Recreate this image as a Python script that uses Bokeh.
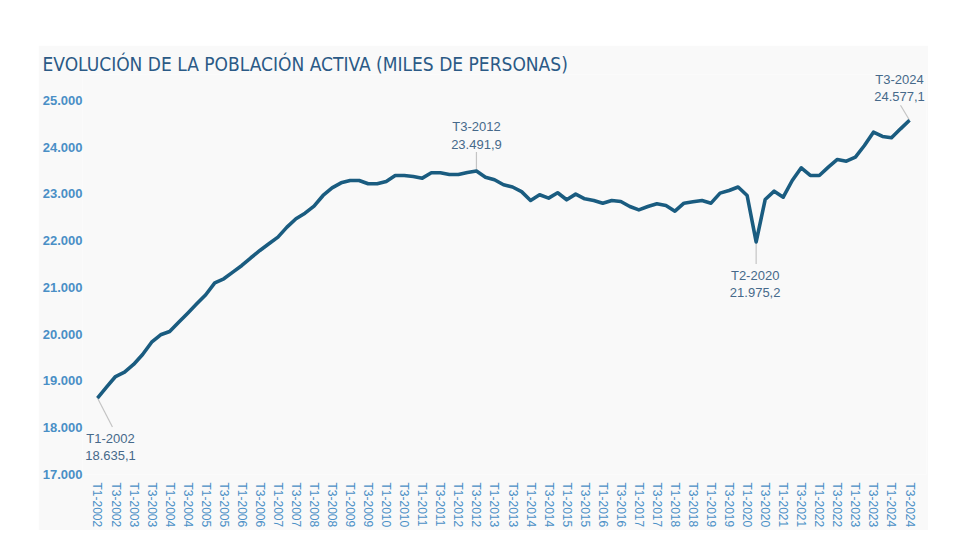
from bokeh.plotting import figure
from bokeh.models import ColumnDataSource, Range1d, FixedTicker
from bokeh.core.properties import value
from bokeh.embed import file_html
from bokeh.resources import INLINE

# ---- data ----
years = list(range(2002, 2025))
quarters = [f"T{q}-{y}" for y in years for q in (1, 2, 3, 4)][:91]  # T1-2002 .. T3-2024
activos = [
    18635.1, 18868, 19096, 19189, 19353, 19567, 19830, 19988, 20059, 20258,
    20451, 20651, 20844, 21100, 21186, 21329, 21471, 21636, 21792, 21935,
    22078, 22292, 22470, 22590, 22740, 22968, 23132, 23239, 23289, 23289,
    23218, 23218, 23267, 23396, 23396, 23374, 23339, 23453, 23453, 23417,
    23417, 23460, 23491.9, 23360, 23304, 23197, 23150, 23050, 22861, 22983,
    22912, 23026, 22876, 22997, 22897, 22861, 22804, 22861, 22840, 22733,
    22661, 22733, 22790, 22754, 22633, 22804, 22833, 22861, 22804, 23019,
    23075, 23150, 22968, 21975.2, 22882, 23060, 22932, 23289, 23560, 23396,
    23396, 23574, 23738, 23702, 23787, 24037, 24322, 24230, 24202, 24394,
    24577.1,
]
y_ticks = [17000, 18000, 19000, 20000, 21000, 22000, 23000, 24000, 25000]
annotated = ["T1-2002", "T3-2012", "T2-2020", "T3-2024"]
title_text = "EVOLUCIÓN DE LA POBLACIÓN ACTIVA (MILES DE PERSONAS)"

def es_num(v, dec=0):
    s = f"{v:,.{dec}f}"
    return s.replace(",", "X").replace(".", ",").replace("X", ".")

x_idx = list(range(len(activos)))

# ---- styles ----
PANEL = "#f9f9f9"
LINE = "#1a5c80"
TITLE_C = "#2b5a86"
TICK_C = "#4a8fc6"
ANN_C = "#46698a"
FONT = "Liberation Sans"
TITLE_FONT = "DejaVu Sans Condensed"

p = figure(width=890, height=485, output_backend="svg", toolbar_location=None,
           x_range=Range1d(-1.66, 91.88), y_range=Range1d(17000, 25556),
           min_border_left=44, min_border_right=2, min_border_top=29, min_border_bottom=56,
           background_fill_color=PANEL, border_fill_color=PANEL, outline_line_color=None)
p.margin = (45, 0, 0, 38)

p.title.text = title_text
p.title.text_font = TITLE_FONT
p.title.text_font_size = "19px"
p.title.text_font_style = "normal"
p.title.text_color = TITLE_C
p.title.align = "left"
p.title.offset = -40
p.title.standoff = 0

p.xgrid.visible = False
p.ygrid.visible = False

p.yaxis.ticker = FixedTicker(ticks=y_ticks)
p.yaxis.major_label_overrides = {t: es_num(t) for t in y_ticks}
p.yaxis.axis_line_color = None
p.yaxis.major_tick_line_color = None
p.yaxis.minor_tick_line_color = None
p.yaxis.major_tick_in = 0
p.yaxis.major_tick_out = 0
p.yaxis.major_label_standoff = 0
p.yaxis.major_label_text_font = FONT
p.yaxis.major_label_text_font_size = "13px"
p.yaxis.major_label_text_font_style = "bold"
p.yaxis.major_label_text_color = TICK_C

xt = x_idx[::2]
p.xaxis.ticker = FixedTicker(ticks=xt)
p.xaxis.major_label_overrides = {i: quarters[i] for i in xt}
p.xaxis.major_label_orientation = "vertical"
p.xaxis.axis_line_color = None
p.xaxis.major_tick_line_color = None
p.xaxis.minor_tick_line_color = None
p.xaxis.major_tick_in = 0
p.xaxis.major_tick_out = 0
p.xaxis.major_label_standoff = 8
p.xaxis.major_label_text_font = FONT
p.xaxis.major_label_text_font_size = "12px"
p.xaxis.major_label_text_color = TICK_C

# annotations
ai = [quarters.index(q) for q in annotated]
ay = [activos[i] for i in ai]
# leader offsets (data units) and label offsets (px, positive = down)
ldx = [1.66, 0, 0, -1.0]
ldy = [-620, 406, -470, 321]
tdx = [13, 0, -1, -10]
tdy1 = [40, -44, 34, -41]
tdy2 = [57, -26, 51, -24]

lead = ColumnDataSource(dict(x0=ai, y0=ay,
                             x1=[a + d for a, d in zip(ai, ldx)],
                             y1=[a + d for a, d in zip(ay, ldy)]))
p.segment(x0="x0", y0="y0", x1="x1", y1="y1", source=lead, line_color="#c4c4c4", line_width=1.2)

src = ColumnDataSource(dict(x=x_idx, y=activos))
p.line("x", "y", source=src, line_color=LINE, line_width=3.6, line_join="round")

ann = ColumnDataSource(dict(x=ai, y=ay, q=annotated, v=[es_num(v, 1) for v in ay],
                            dx=tdx, dy1=tdy1, dy2=tdy2))
p.text(x="x", y="y", text="q", source=ann, x_offset="dx", y_offset="dy1",
       text_align="center", text_baseline="middle", text_font=value(FONT),
       text_font_size="13px", text_color=ANN_C)
p.text(x="x", y="y", text="v", source=ann, x_offset="dx", y_offset="dy2",
       text_align="center", text_baseline="middle", text_font=value(FONT),
       text_font_size="13px", text_color=ANN_C)

open("out.html", "w").write(file_html(p, INLINE))
